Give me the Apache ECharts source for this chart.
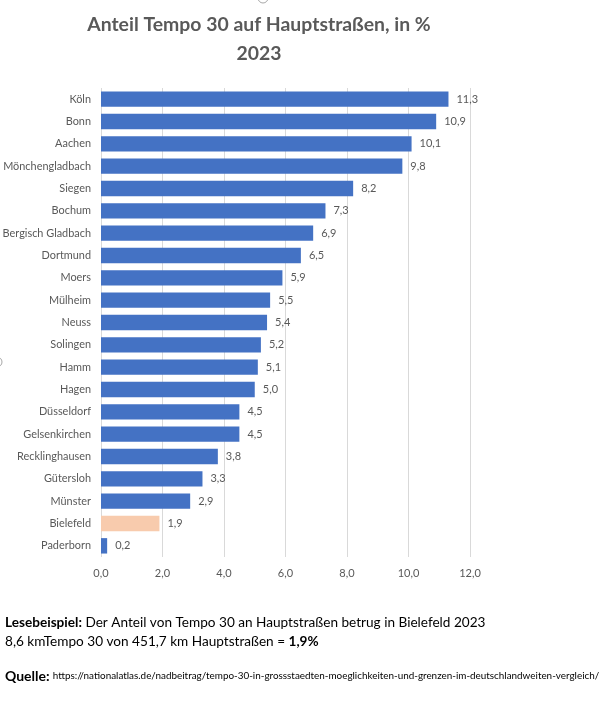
<!DOCTYPE html>
<html>
<head>
<meta charset="utf-8">
<script src="https://cdn.jsdelivr.net/npm/echarts@6/dist/echarts.min.js"></script>
<style>
  html, body { margin: 0; padding: 0; background: #fff; }
  #chart { width: 609px; height: 718px; }
</style>
</head>
<body>
<div id="chart"></div>
<script>
var cities = ['Köln', 'Bonn', 'Aachen', 'Mönchengladbach', 'Siegen', 'Bochum', 'Bergisch Gladbach',
  'Dortmund', 'Moers', 'Mülheim', 'Neuss', 'Solingen', 'Hamm', 'Hagen', 'Düsseldorf',
  'Gelsenkirchen', 'Recklinghausen', 'Gütersloh', 'Münster', 'Bielefeld', 'Paderborn']
var shares = [11.3, 10.9, 10.1, 9.8, 8.2, 7.3, 6.9, 6.5, 5.9, 5.5, 5.4, 5.2, 5.1, 5.0, 4.5, 4.5, 3.8, 3.3, 2.9, 1.9, 0.2]
var highlightCity = 'Bielefeld'
var xTicks = [0, 2, 4, 6, 8, 10, 12]

var fmt = function (v) { return Number(v).toFixed(1).replace('.', ',') }
var font = 'Lato, "Open Sans", sans-serif'

var chart = echarts.init(document.getElementById('chart'))
chart.setOption({
  animation: false,
  title: {
    text: 'Anteil Tempo 30 auf Hauptstraßen, in %\n2023',
    left: 254,
    textAlign: 'center',
    top: 5,
    textStyle: { fontFamily: font, fontSize: 19.4, fontWeight: 'bold', color: '#595959', lineHeight: 29 }
  },
  grid: { left: 101, right: 139, top: 88, bottom: 161, outerBoundsMode: 'none' },
  xAxis: {
    type: 'value',
    min: xTicks[0],
    max: xTicks[xTicks.length - 1],
    interval: 2,
    axisLine: { show: false },
    axisTick: { show: false },
    splitLine: { lineStyle: { color: '#d9d9d9', width: 1 } },
    axisLabel: { formatter: fmt, color: '#595959', fontFamily: font, fontSize: 11, margin: 11 }
  },
  yAxis: {
    type: 'category',
    inverse: true,
    data: cities,
    axisLine: { show: false },
    axisTick: { show: false },
    axisLabel: { color: '#595959', fontFamily: font, fontSize: 10.9, margin: 10 }
  },
  series: [{
    type: 'bar',
    barCategoryGap: '31%',
    data: shares.map(function (v, i) {
      return {
        value: v,
        itemStyle: { color: cities[i] === highlightCity ? '#f8cbad' : '#4472c4' }
      }
    }),
    label: {
      show: true,
      position: 'right',
      distance: 8,
      formatter: function (p) { return fmt(p.value) },
      color: '#595959',
      fontFamily: font,
      fontSize: 11
    }
  }],
  graphic: [
    {
      type: 'circle', shape: { cx: 263, cy: -2, r: 5 },
      style: { fill: '#fff', stroke: '#a6a6a6', lineWidth: 1 }
    },
    {
      type: 'circle', shape: { cx: -3, cy: 362, r: 5 },
      style: { fill: '#fff', stroke: '#a6a6a6', lineWidth: 1 }
    },
    {
      type: 'text', left: 5, top: 613,
      style: {
        text: '{b|Lesebeispiel:} Der Anteil von Tempo 30 an Hauptstraßen betrug in Bielefeld 2023\n8,6 kmTempo 30 von 451,7 km Hauptstraßen = {b|1,9%}',
        fontFamily: font, fontSize: 13.6, lineHeight: 19, fill: '#000',
        rich: { b: { fontWeight: 'bold', fontFamily: font, fontSize: 13.6 } }
      }
    },
    {
      type: 'text', left: 5, top: 669,
      style: {
        text: '{b|Quelle:} {u|https://nationalatlas.de/nadbeitrag/tempo-30-in-grossstaedten-moeglichkeiten-und-grenzen-im-deutschlandweiten-vergleich/}',
        fontFamily: font, fill: '#000',
        rich: {
          b: { fontWeight: 'bold', fontFamily: font, fontSize: 14 },
          u: { fontFamily: font, fontSize: 9.9 }
        }
      }
    }
  ]
})
</script>
</body>
</html>
